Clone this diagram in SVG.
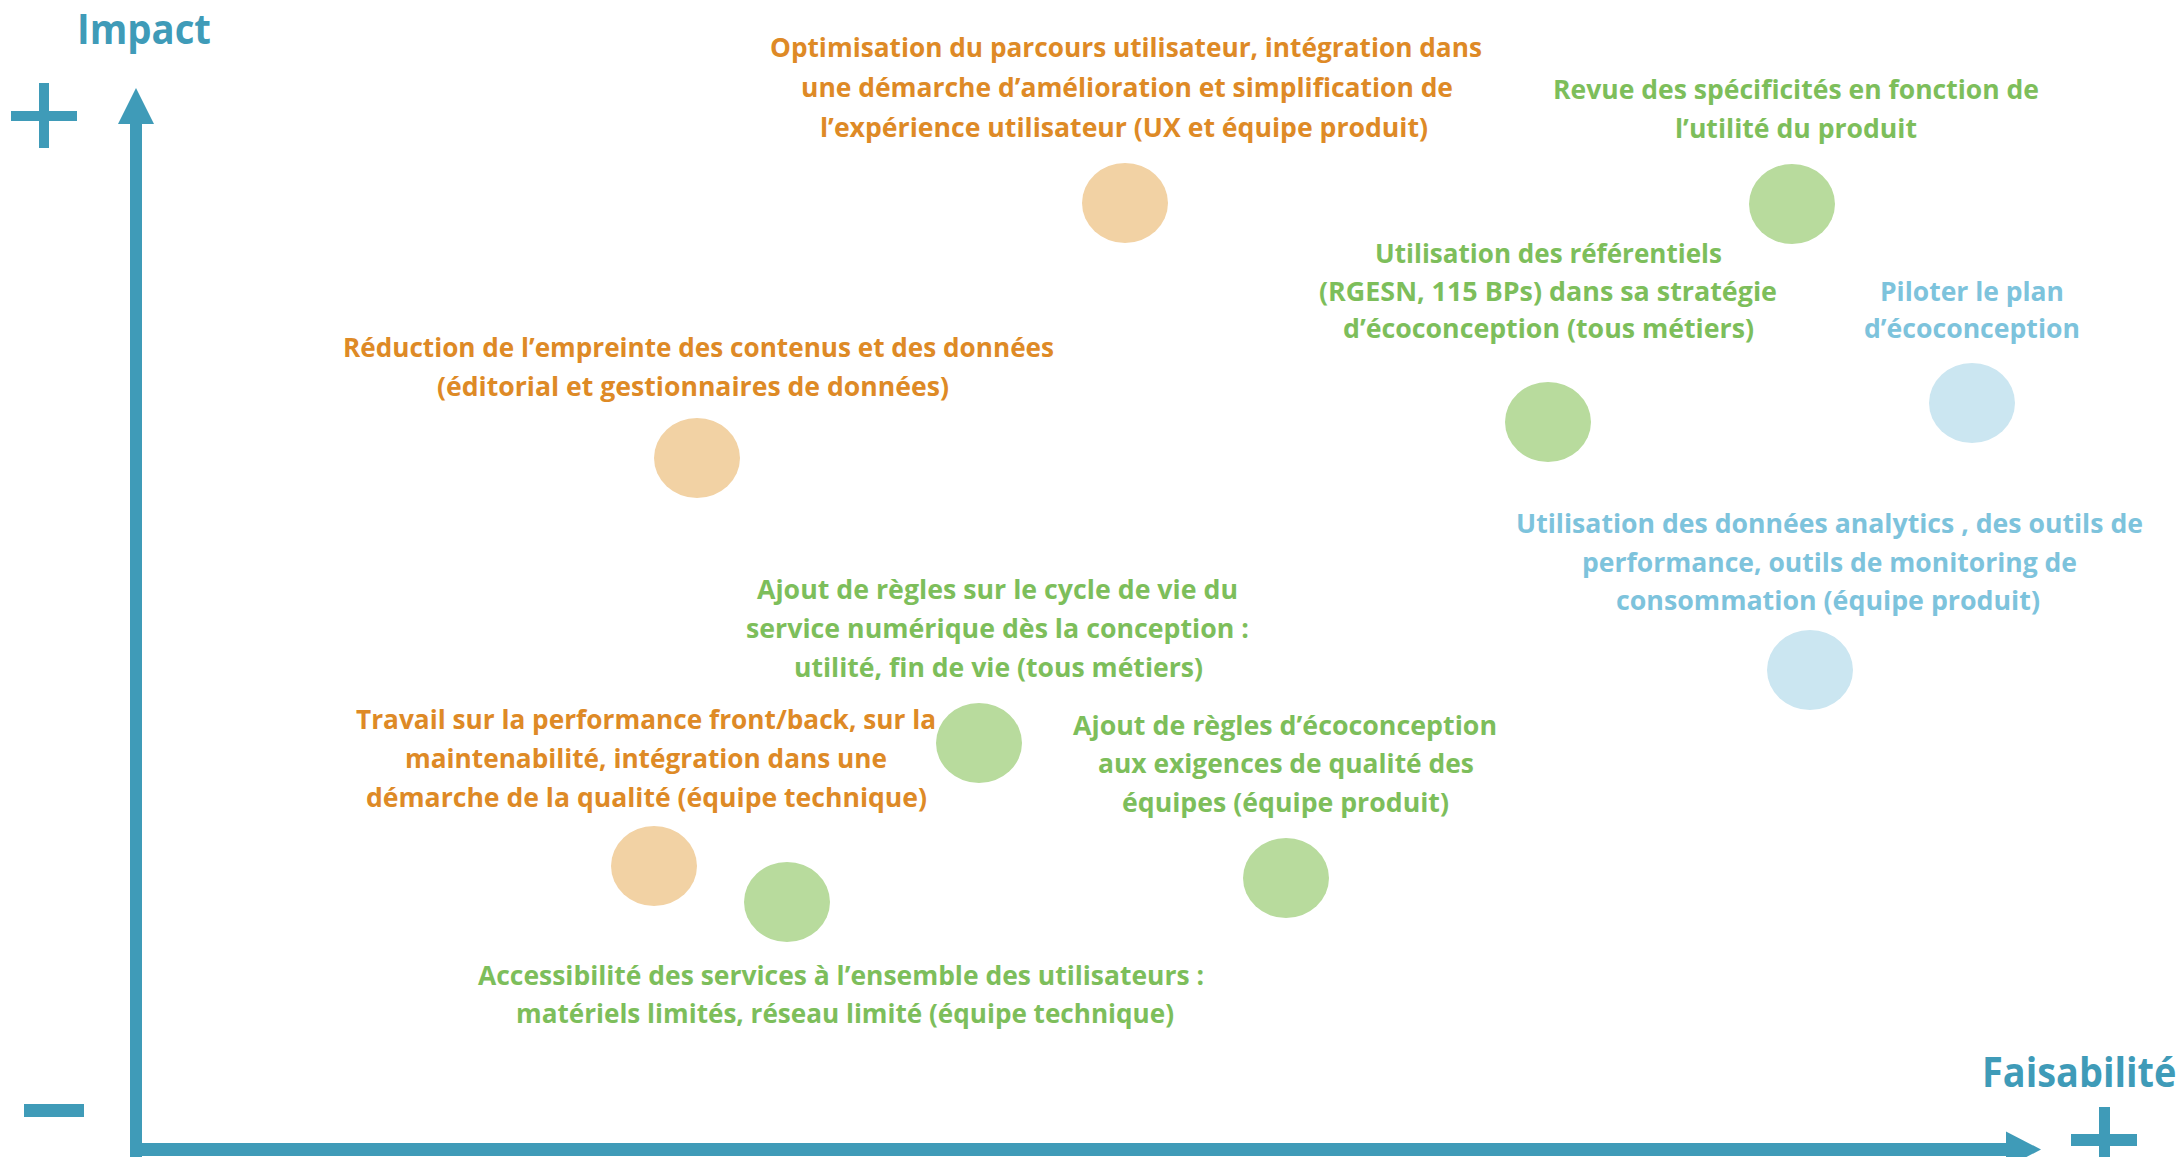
<svg xmlns="http://www.w3.org/2000/svg" width="2183" height="1157" viewBox="0 0 2183 1157">
<style>
  text { font-family: "Open Sans", "Noto Sans", "Liberation Sans", sans-serif; font-weight: 700; font-size: 27px; }
  .ax { fill: #3F9BB8; }
  .title { font-size: 41px; fill: #3F9BB8; }
  .to { fill: #DE8A26; }
  .tg { fill: #7DBE5B; }
  .tb { fill: #7DC3DC; }
  .co { fill: #F2D2A4; }
  .cg { fill: #B8DB9D; }
  .cb { fill: #CBE6F1; }
</style>
<rect width="2183" height="1157" fill="#FFFFFF"/>
<g id="axes">
  <rect class="ax" x="130" y="122" width="12" height="1035"/>
  <polygon class="ax" points="136,88 118,124 154,124"/>
  <rect class="ax" x="130" y="1143" width="1878" height="13"/>
  <polygon class="ax" points="2041,1149.5 2006,1131.5 2006,1167.5"/>
  <rect class="ax" x="11" y="111" width="66" height="10"/>
  <rect class="ax" x="39" y="83" width="10" height="65"/>
  <rect class="ax" x="24" y="1104" width="60" height="13"/>
  <rect class="ax" x="2071" y="1134" width="66" height="12"/>
  <rect class="ax" x="2099" y="1107" width="11" height="50"/>
  <text class="title" x="77" y="44" textLength="134" lengthAdjust="spacingAndGlyphs">Impact</text>
  <text class="title" transform="translate(1982 1087) scale(0.8 1)" x="0" y="0" textLength="243" lengthAdjust="spacingAndGlyphs">Faisabilité</text>
</g>
<g id="connectors"></g>
<g id="n-ux">
  <ellipse class="co" cx="1125" cy="203" rx="43" ry="40"/>
  <text class="to" x="770" y="57" textLength="712" lengthAdjust="spacingAndGlyphs">Optimisation du parcours utilisateur, intégration dans</text>
  <text class="to" x="801" y="97" textLength="652" lengthAdjust="spacingAndGlyphs">une démarche d’amélioration et simplification de</text>
  <text class="to" x="820" y="137" textLength="608" lengthAdjust="spacingAndGlyphs">l’expérience utilisateur (UX et équipe produit)</text>
</g>
<g id="n-revue">
  <ellipse class="cg" cx="1792" cy="204" rx="43" ry="40"/>
  <text class="tg" x="1553" y="99" textLength="486" lengthAdjust="spacingAndGlyphs">Revue des spécificités en fonction de</text>
  <text class="tg" x="1675" y="138" textLength="242" lengthAdjust="spacingAndGlyphs">l’utilité du produit</text>
</g>
<g id="n-referentiels">
  <ellipse class="cg" cx="1548" cy="422" rx="43" ry="40"/>
  <text class="tg" x="1375" y="263" textLength="347" lengthAdjust="spacingAndGlyphs">Utilisation des référentiels</text>
  <text class="tg" x="1319" y="301" textLength="458" lengthAdjust="spacingAndGlyphs">(RGESN, 115 BPs) dans sa stratégie</text>
  <text class="tg" x="1343" y="338" textLength="411" lengthAdjust="spacingAndGlyphs">d’écoconception (tous métiers)</text>
</g>
<g id="n-piloter">
  <ellipse class="cb" cx="1972" cy="403" rx="43" ry="40"/>
  <text class="tb" x="1880" y="301" textLength="184" lengthAdjust="spacingAndGlyphs">Piloter le plan</text>
  <text class="tb" x="1864" y="338" textLength="216" lengthAdjust="spacingAndGlyphs">d’écoconception</text>
</g>
<g id="n-reduction">
  <ellipse class="co" cx="697" cy="458" rx="43" ry="40"/>
  <text class="to" x="343" y="357" textLength="711" lengthAdjust="spacingAndGlyphs">Réduction de l’empreinte des contenus et des données</text>
  <text class="to" x="437" y="396" textLength="512" lengthAdjust="spacingAndGlyphs">(éditorial et gestionnaires de données)</text>
</g>
<g id="n-analytics">
  <ellipse class="cb" cx="1810" cy="670" rx="43" ry="40"/>
  <text class="tb" x="1516" y="533" textLength="627" lengthAdjust="spacingAndGlyphs">Utilisation des données analytics , des outils de</text>
  <text class="tb" x="1582" y="572" textLength="495" lengthAdjust="spacingAndGlyphs">performance, outils de monitoring de</text>
  <text class="tb" x="1616" y="610" textLength="424" lengthAdjust="spacingAndGlyphs">consommation (équipe produit)</text>
</g>
<g id="n-cycle">
  <ellipse class="cg" cx="979" cy="743" rx="43" ry="40"/>
  <text class="tg" x="757" y="599" textLength="481" lengthAdjust="spacingAndGlyphs">Ajout de règles sur le cycle de vie du</text>
  <text class="tg" x="746" y="638" textLength="503" lengthAdjust="spacingAndGlyphs">service numérique dès la conception :</text>
  <text class="tg" x="794" y="677" textLength="409" lengthAdjust="spacingAndGlyphs">utilité, fin de vie (tous métiers)</text>
</g>
<g id="n-travail">
  <ellipse class="co" cx="654" cy="866" rx="43" ry="40"/>
  <text class="to" x="356" y="729" textLength="580" lengthAdjust="spacingAndGlyphs">Travail sur la performance front/back, sur la</text>
  <text class="to" x="405" y="768" textLength="482" lengthAdjust="spacingAndGlyphs">maintenabilité, intégration dans une</text>
  <text class="to" x="366" y="807" textLength="561" lengthAdjust="spacingAndGlyphs">démarche de la qualité (équipe technique)</text>
</g>
<g id="n-exigences">
  <ellipse class="cg" cx="1286" cy="878" rx="43" ry="40"/>
  <text class="tg" x="1073" y="735" textLength="424" lengthAdjust="spacingAndGlyphs">Ajout de règles d’écoconception</text>
  <text class="tg" x="1098" y="773" textLength="376" lengthAdjust="spacingAndGlyphs">aux exigences de qualité des</text>
  <text class="tg" x="1122" y="812" textLength="327" lengthAdjust="spacingAndGlyphs">équipes (équipe produit)</text>
</g>
<g id="n-access">
  <ellipse class="cg" cx="787" cy="902" rx="43" ry="40"/>
  <text class="tg" x="478" y="985" textLength="726" lengthAdjust="spacingAndGlyphs">Accessibilité des services à l’ensemble des utilisateurs :</text>
  <text class="tg" x="516" y="1023" textLength="658" lengthAdjust="spacingAndGlyphs">matériels limités, réseau limité (équipe technique)</text>
</g>
</svg>
